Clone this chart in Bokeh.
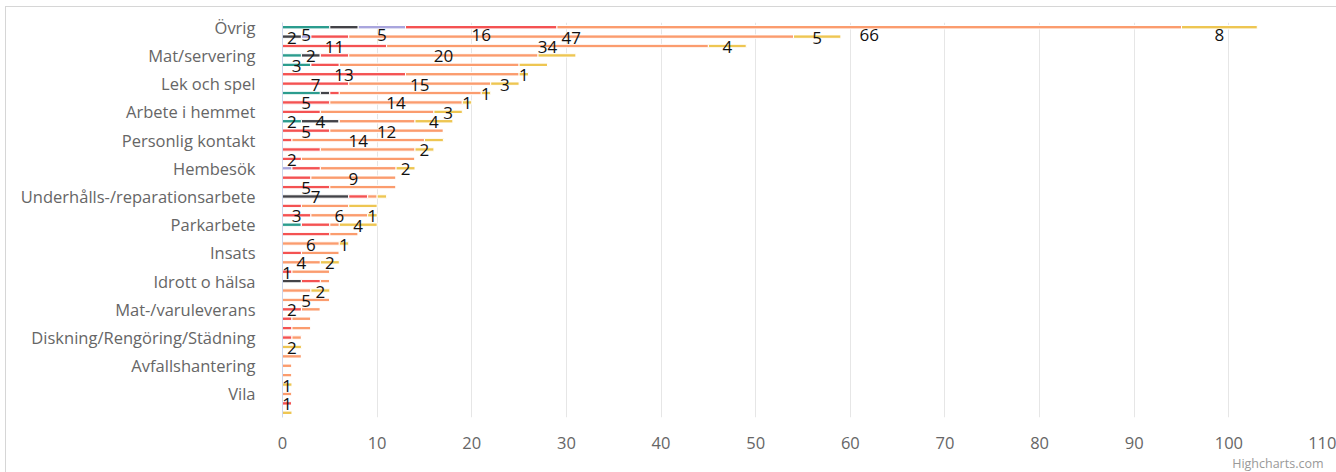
from bokeh.plotting import figure
from bokeh.models import ColumnDataSource, Range1d, FixedTicker, Title
from bokeh.embed import file_html
from bokeh.resources import INLINE
from bokeh.core.properties import value

# ---------------- data ----------------
N_ROWS = 42
LABEL_STEP = 3
categories = ["Övrig", "Mat/servering", "Lek och spel", "Arbete i hemmet",
              "Personlig kontakt", "Hembesök", "Underhålls-/reparationsarbete",
              "Parkarbete", "Insats", "Idrott o hälsa", "Mat-/varuleverans",
              "Diskning/Rengöring/Städning", "Avfallshantering", "Vila"]

series_names = ["Serie 1", "Serie 2", "Serie 3", "Serie 4", "Serie 5", "Serie 6"]
teal   = [5, 0, 0, 2, 3, 0, 0, 4, 0, 0,  2, 0, 0, 0, 0, 0, 0, 0, 0, 0,
          0, 2, 0, 0, 0, 0, 0, 0, 0, 0,  0, 0, 0, 0, 0, 0, 0, 0, 0, 0,  0, 0]
gray   = [3, 2, 0, 2, 0, 0, 0, 1, 0, 0,  4, 0, 0, 0, 0, 0, 0, 0, 7, 0,
          0, 0, 0, 0, 0, 0, 0, 2, 0, 0,  0, 0, 0, 0, 0, 0, 0, 0, 0, 0,  0, 0]
lav    = [5, 1, 0, 0, 0, 0, 0, 0, 0, 0,  0, 0, 0, 0, 0, 1, 0, 0, 0, 0,
          0, 0, 0, 0, 0, 0, 0, 0, 0, 0,  0, 0, 0, 0, 0, 0, 0, 0, 0, 0,  0, 0]
red    = [16, 4, 11, 3, 3, 13, 7, 1, 5, 4,  0, 5, 1, 4, 2, 3, 3, 5, 2, 2,
          3, 3, 5, 0, 2, 0, 1, 2, 0, 0,  2, 1, 1, 1, 0, 0, 0, 0, 0, 0,  1, 0]
orange = [66, 47, 34, 20, 19, 12, 15, 15, 14, 12,  8, 12, 14, 10, 12, 8, 9, 7, 1, 5,
          6, 1, 3, 6, 4, 4, 4, 1, 3, 5,  2, 2, 2, 1, 0, 2, 1, 1, 0, 1,  0, 0]
yellow = [8, 5, 4, 4, 3, 1, 3, 1, 1, 3,  4, 0, 2, 2, 0, 2, 0, 0, 1, 3,
          1, 4, 0, 1, 0, 2, 0, 0, 2, 0,  0, 0, 0, 0, 2, 0, 0, 0, 1, 0,  0, 1]

# rows whose data label is visible (the others are hidden by overlap)
label_rows = [
    [0, 4, 10],
    [1, 3, 10, 18],
    [0],
    [0, 2, 5, 6, 8, 11, 14, 17, 20, 26, 30, 40],
    [0, 1, 2, 3, 6, 8, 11, 12, 16, 20, 23, 25, 29],
    [0, 1, 2, 5, 6, 7, 8, 9, 10, 13, 15, 20, 21, 23, 25, 28, 34, 38],
]
x_ticks = list(range(0, 111, 10))

# ---------------- styling ----------------
colors = ["#2b9c8e", "#434348", "#a9a5dd", "#f45252", "#fb9c6e", "#eec652"]
FONT = "Open Sans"

series = [teal, gray, lav, red, orange, yellow]
rows = list(range(N_ROWS))
data = {"row": rows}
for name, vals in zip(series_names, series):
    data[name] = vals
source = ColumnDataSource(data)

p = figure(width=1336, height=472,
           x_range=Range1d(0, 110), y_range=Range1d(N_ROWS - 0.5, -0.5),
           output_backend="svg", toolbar_location=None,
           min_border_left=282, min_border_right=13,
           min_border_top=22, min_border_bottom=54)
p.outline_line_color = None
p.background_fill_color = "white"
p.border_fill_color = None
# chart container border (top / left), drawn behind the transparent canvas border
p.styles = {
    "background": ("linear-gradient(#d6d6d6,#d6d6d6) 5px 6px / 1331px 1px no-repeat, "
                   "linear-gradient(#d6d6d6,#d6d6d6) 5px 6px / 1px 466px no-repeat, white"),
}

p.hbar_stack(series_names, y="row", height=0.36, color=colors,
             line_color="white", line_width=1, source=source)

# data labels
lx, ly, lt, lo = [], [], [], []
for si, vals in enumerate(series):
    for r in label_rows[si]:
        start = sum(series[k][r] for k in range(si))
        lx.append(start + vals[r] / 2)
        ly.append(r)
        lt.append(str(vals[r]))
        lo.append(8 if r == 0 else 1)
lab_src = ColumnDataSource(dict(x=lx, y=ly, t=lt, o=lo))
p.text(x="x", y="y", text="t", y_offset="o", source=lab_src,
       text_align="center", text_baseline="middle",
       text_font=value(FONT), text_font_size="17px", text_color="#111111")

# axes
yax = p.yaxis[0]
yax.ticker = FixedTicker(ticks=list(range(0, N_ROWS, LABEL_STEP)))
yax.major_label_overrides = {i * LABEL_STEP: c for i, c in enumerate(categories)}
yax.axis_line_color = "#ccd6eb"
yax.major_tick_line_color = None
yax.minor_tick_line_color = None
yax.major_label_text_color = "#666666"
yax.major_label_text_font = FONT
yax.major_label_text_font_size = "16.5px"
yax.major_label_standoff = 21

xax = p.xaxis[0]
xax.ticker = FixedTicker(ticks=x_ticks)
xax.axis_line_color = None
xax.major_tick_line_color = None
xax.minor_tick_line_color = None
xax.major_label_text_color = "#666666"
xax.major_label_text_font = FONT
xax.major_label_text_font_size = "16.5px"
xax.major_label_standoff = 13

p.xgrid.grid_line_color = "#e6e6e6"
p.xgrid.ticker = FixedTicker(ticks=x_ticks)
p.ygrid.grid_line_color = None

credit = Title(text="Highcharts.com", align="right", text_font=FONT,
               text_font_size="12.5px", text_color="#999999",
               text_font_style="normal", standoff=2)
p.add_layout(credit, "below")

open("out.html", "w").write(file_html(p, INLINE))
